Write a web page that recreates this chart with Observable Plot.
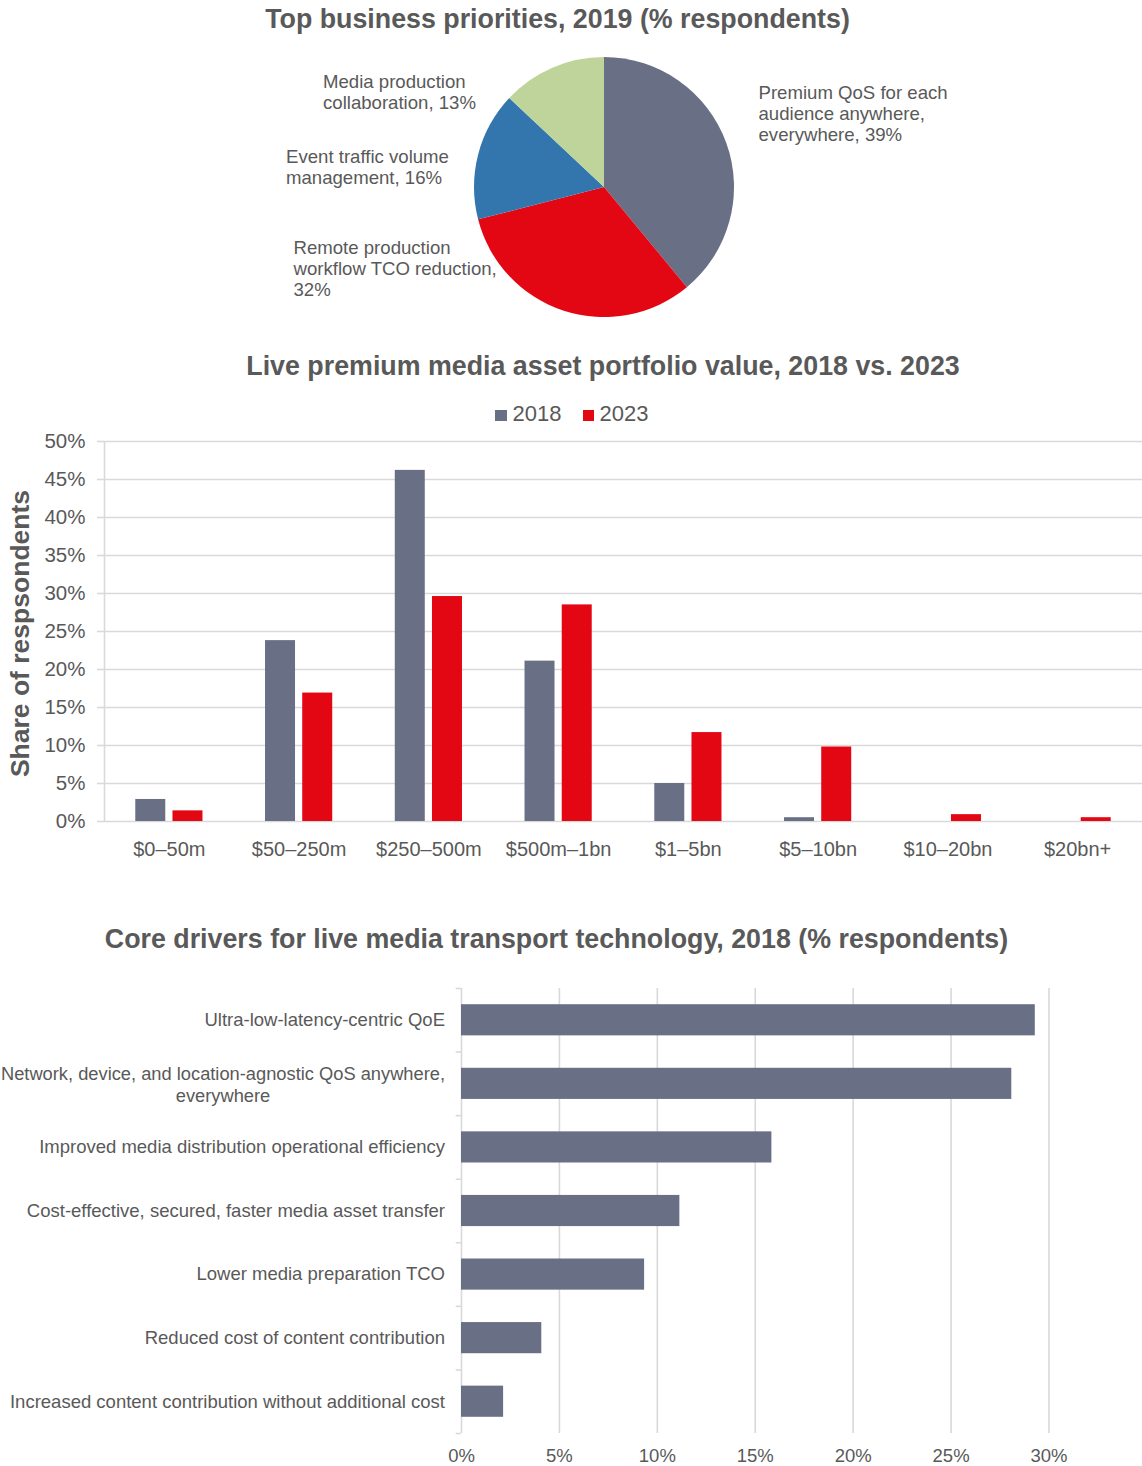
<!DOCTYPE html>
<html>
<head>
<meta charset="utf-8">
<script src="https://cdn.jsdelivr.net/npm/d3@7"></script>
<script src="https://cdn.jsdelivr.net/npm/@observablehq/plot@0.6"></script>
<style>
  body { margin: 0; background: #fff; font-family: "Liberation Sans", Arial, sans-serif; color: #595959; }
  #page { position: relative; width: 1142px; height: 1466px; overflow: hidden; background: #fff; }
  .title { position: absolute; font-weight: bold; white-space: pre; line-height: 1; transform: translateX(-50%); font-size: 26.8px; color: #595959; }
  .block { position: absolute; left: 0; }
  .swatch { position: absolute; }
  .legtext { position: absolute; font-size: 22px; line-height: 1; }
</style>
</head>
<body>
<div id="page"></div>
<script>
// ---------------- DATA ----------------
// Chart 1: Top business priorities, 2019 (% respondents)
const pieNames = [
  "Premium QoS for each audience anywhere, everywhere",
  "Remote production workflow TCO reduction",
  "Event traffic volume management",
  "Media production collaboration"
];
const pieLabels = [
  "Premium QoS for each\naudience anywhere,\neverywhere, ",
  "Remote production\nworkflow TCO reduction,\n",
  "Event traffic volume\nmanagement, ",
  "Media production\ncollaboration, "
];
const pieValues = [39, 32, 16, 13];

// Chart 2: Live premium media asset portfolio value, 2018 vs. 2023
const portfolioCategories = ["$0–50m", "$50–250m", "$250–500m", "$500m–1bn", "$1–5bn", "$5–10bn", "$10–20bn", "$20bn+"];
const years = ["2018", "2023"];
const values2018 = [2.9, 23.8, 46.2, 21.1, 5.0, 0.5, 0, 0];
const values2023 = [1.4, 16.9, 29.6, 28.5, 11.7, 9.8, 0.9, 0.5];
const portfolioTicks = [0, 5, 10, 15, 20, 25, 30, 35, 40, 45, 50];

// Chart 3: Core drivers for live media transport technology, 2018 (% respondents)
const drivers = [
  "Ultra-low-latency-centric QoE",
  "Network, device, and location-agnostic QoS anywhere, everywhere",
  "Improved media distribution operational efficiency",
  "Cost-effective, secured, faster media asset transfer",
  "Lower media preparation TCO",
  "Reduced cost of content contribution",
  "Increased content contribution without additional cost"
];
const driverValues = [29.3, 28.1, 15.85, 11.15, 9.35, 4.1, 2.15];
const driverTicks = [0, 5, 10, 15, 20, 25, 30];

// ---------------- STYLE ----------------
const TEXT = "#595959";
const GRID = "#d9d9d9";
const GREY = "#697086";
const RED = "#e30613";
const BLUE = "#3376ae";
const GREEN = "#bfd49b";
const FONT = '"Liberation Sans", Arial, sans-serif';
const page = document.getElementById("page");

function addTitle(text, cx, top) {
  const d = document.createElement("div");
  d.className = "title";
  d.textContent = text;
  d.style.left = cx + "px";
  d.style.top = top + "px";
  page.appendChild(d);
}
function addBlock(node, top) {
  const d = document.createElement("div");
  d.className = "block";
  d.style.top = top + "px";
  d.appendChild(node);
  page.appendChild(d);
}
const baseStyle = {fontFamily: FONT, color: TEXT, background: "transparent", overflow: "visible"};

// ---------------- CHART 1: PIE ----------------
addTitle("Top business priorities, 2019 (% respondents)", 557.5, 5.5);

const PIE = {cx: 604, cy: 147, r: 130};
const pieLabelPos = [[758, 43], [293, 198], [285.5, 107], [322.5, 32]];
const pieColor = Plot.scale({color: {type: "ordinal", domain: pieNames, range: [GREY, RED, BLUE, GREEN]}});
const pieData = pieNames.map((name, i) => ({name, value: pieValues[i], label: pieLabels[i] + pieValues[i] + "%"}));
const arcs = d3.pie().sort(null).value(d => d.value)(pieData);
const arcGen = d3.arc().innerRadius(0).outerRadius(PIE.r);

const pieChart = Plot.plot({
  width: 1142,
  height: 300,
  margin: 0,
  style: baseStyle,
  marks: [
    () => {
      const g = d3.create("svg:g").attr("transform", `translate(${PIE.cx},${PIE.cy})`);
      g.selectAll("path").data(arcs).join("path")
        .attr("d", arcGen)
        .attr("fill", d => pieColor.apply(d.data.name));
      return g.node();
    },
    ...pieData.map((d, i) => Plot.text([d], {
      text: "label",
      frameAnchor: "top-left",
      dx: pieLabelPos[i][0],
      dy: pieLabelPos[i][1],
      textAnchor: "start",
      lineAnchor: "top",
      lineHeight: 1.14,
      fontSize: 18.6,
      fill: TEXT
    }))
  ]
});
addBlock(pieChart, 40);

// ---------------- CHART 2: GROUPED BARS ----------------
addTitle("Live premium media asset portfolio value, 2018 vs. 2023", 603, 353);

// legend
const legendItems = [
  {year: years[0], color: GREY, sx: 495, tx: 512.5},
  {year: years[1], color: RED, sx: 582.5, tx: 599.5}
];
for (const it of legendItems) {
  const s = document.createElement("div");
  s.className = "swatch";
  Object.assign(s.style, {left: it.sx + "px", top: "410px", width: "11.5px", height: "11px", background: it.color});
  page.appendChild(s);
  const t = document.createElement("div");
  t.className = "legtext";
  t.textContent = it.year;
  Object.assign(t.style, {left: it.tx + "px", top: "402.5px"});
  page.appendChild(t);
}

const portfolioRows = [];
portfolioCategories.forEach((c, i) => {
  portfolioRows.push({cat: c, year: years[0], value: values2018[i]});
  portfolioRows.push({cat: c, year: years[1], value: values2023[i]});
});
const step2 = (1142 - 104) / portfolioCategories.length;
const barOffset = 18.6;

const barChart = Plot.plot({
  width: 1142,
  height: 450,
  marginTop: 11,
  marginBottom: 59,
  marginLeft: 104,
  marginRight: 0,
  style: baseStyle,
  x: {domain: portfolioCategories, paddingInner: 0.7688, paddingOuter: 0.3844, round: false, axis: null},
  y: {domain: [0, 50], axis: null},
  color: {domain: years, range: [GREY, RED]},
  marks: [
    Plot.ruleY(portfolioTicks, {stroke: GRID, strokeWidth: 1.6}),
    Plot.ruleX([portfolioCategories[0]], {dx: -step2 / 2, stroke: GRID, strokeWidth: 1.6}),
    Plot.axisY({ticks: portfolioTicks, tickSize: 7, tickPadding: 12, stroke: GRID, strokeWidth: 1.6,
      fill: TEXT, fontSize: 20.5, tickFormat: d => d + "%", label: null}),
    Plot.axisX({tickSize: 0, tickPadding: 20, fontSize: 20, fill: TEXT, label: null}),
    Plot.barY(portfolioRows.filter(d => d.year === years[0]), {x: "cat", y: "value", fill: "year", dx: -barOffset}),
    Plot.barY(portfolioRows.filter(d => d.year === years[1]), {x: "cat", y: "value", fill: "year", dx: barOffset}),
    Plot.text(["Share of respsondents"], {text: d => d, frameAnchor: "left", textAnchor: "middle", rotate: -90,
      dx: -84, dy: 2, fontSize: 26.5, fontWeight: "bold", fill: TEXT, lineAnchor: "middle"})
  ]
});
addBlock(barChart, 430);

// ---------------- CHART 3: HORIZONTAL BARS ----------------
addTitle("Core drivers for live media transport technology, 2018 (% respondents)", 556.5, 926);

const driverRows = drivers.map((name, i) => ({name, value: driverValues[i]}));
const step3 = (496 - 18 - 33) / drivers.length;
const wrapped = drivers[1];
const wrappedText = "Network, device, and location-agnostic QoS anywhere,\neverywhere";

const driverChart = Plot.plot({
  width: 1142,
  height: 496,
  marginTop: 18,
  marginBottom: 33,
  marginLeft: 461,
  marginRight: 1142 - 1048.5,
  style: baseStyle,
  x: {domain: [0, 30], axis: null},
  y: {domain: drivers, paddingInner: 0.51, paddingOuter: 0.255, round: false, axis: null},
  marks: [
    Plot.ruleX(driverTicks, {stroke: GRID, strokeWidth: 1.6}),
    Plot.ruleY(drivers, {y: d => d, dy: -step3 / 2, x1: -0.27, x2: 0, stroke: GRID, strokeWidth: 1.6}),
    Plot.ruleY([drivers[drivers.length - 1]], {y: d => d, dy: step3 / 2, x1: -0.27, x2: 0, stroke: GRID, strokeWidth: 1.6}),
    Plot.barX(driverRows, {y: "name", x: "value", fill: GREY}),
    Plot.axisX({ticks: driverTicks, tickSize: 0, tickPadding: 15, fontSize: 18.5, fill: TEXT,
      tickFormat: d => d + "%", label: null}),
    Plot.text(drivers.filter(d => d !== wrapped), {y: d => d, text: d => d, frameAnchor: "left",
      dx: -16.5, textAnchor: "end", lineAnchor: "middle", fontSize: 18.5, fill: TEXT}),
    Plot.text([wrapped], {y: d => d, text: () => wrappedText, frameAnchor: "left",
      dx: -238.5, textAnchor: "middle", lineAnchor: "middle", lineHeight: 1.18, fontSize: 18.3, fill: TEXT})
  ]
});
addBlock(driverChart, 970);
</script>
</body>
</html>
